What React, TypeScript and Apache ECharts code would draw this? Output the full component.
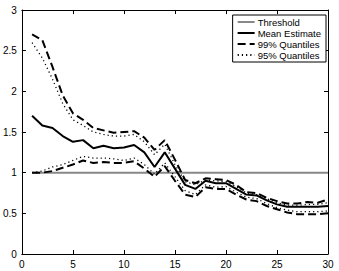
import React, { useEffect, useRef } from "react";
import * as echarts from "echarts";

const steps = Array.from({ length: 30 }, (_, i) => i + 1);
const threshold = steps.map(() => 1);
const meanEstimate = [1.7, 1.58, 1.55, 1.45, 1.38, 1.4, 1.3, 1.33, 1.3, 1.31, 1.34, 1.25, 1.07, 1.25, 1.05, 0.85, 0.8, 0.9, 0.87, 0.87, 0.8, 0.73, 0.72, 0.66, 0.61, 0.58, 0.58, 0.58, 0.58, 0.59];
const q99Upper = [2.7, 2.63, 2.3, 1.95, 1.73, 1.65, 1.55, 1.52, 1.49, 1.5, 1.51, 1.43, 1.28, 1.4, 1.16, 0.91, 0.87, 0.93, 0.92, 0.91, 0.85, 0.76, 0.75, 0.69, 0.65, 0.62, 0.62, 0.64, 0.63, 0.67];
const q95Upper = [2.6, 2.41, 2.15, 1.85, 1.65, 1.58, 1.5, 1.47, 1.45, 1.45, 1.47, 1.38, 1.22, 1.35, 1.1, 0.89, 0.85, 0.91, 0.9, 0.89, 0.83, 0.75, 0.73, 0.68, 0.63, 0.6, 0.6, 0.61, 0.61, 0.63];
const q95Lower = [1.0, 1.02, 1.07, 1.1, 1.15, 1.2, 1.18, 1.18, 1.17, 1.15, 1.18, 1.1, 0.98, 1.12, 0.95, 0.78, 0.73, 0.85, 0.82, 0.83, 0.76, 0.7, 0.68, 0.62, 0.57, 0.54, 0.52, 0.52, 0.52, 0.53];
const q99Lower = [1.0, 1.0, 1.02, 1.06, 1.1, 1.15, 1.12, 1.13, 1.12, 1.12, 1.14, 1.05, 0.95, 1.08, 0.9, 0.73, 0.7, 0.82, 0.8, 0.8, 0.73, 0.67, 0.65, 0.59, 0.55, 0.51, 0.49, 0.49, 0.49, 0.5];

const FONT = "Liberation Sans";

export default function App() {
  const ref = useRef<HTMLDivElement>(null);
  useEffect(() => {
    if (!ref.current) return;
    const chart = echarts.init(ref.current, null, { renderer: "svg" });
    const zip = (arr: number[]) => steps.map((s, i) => [s, arr[i]]);
    const axisCommon = {
      type: "value" as const,
      axisLine: { show: true, onZero: false, lineStyle: { color: "#000", width: 1 } },
      axisTick: { show: true, inside: true, length: 4, lineStyle: { color: "#000" } },
      splitLine: { show: false },
    };
    const dashed = [8, 4];
    const dotted = [1.2, 3];
    chart.setOption({
      animation: false,
      grid: { left: 19, right: 11, top: 10, bottom: 17, containLabel: false },
      legend: {
        orient: "vertical",
        right: 13,
        top: 15,
        backgroundColor: "#fff",
        borderColor: "#000",
        borderWidth: 1,
        padding: [2, 5, 2, 4],
        itemGap: 1,
        itemWidth: 17,
        itemHeight: 10,
        itemStyle: { opacity: 0 },
        textStyle: { fontFamily: FONT, fontSize: 9.5, color: "#000", padding: [0, 0, 0, -2] },
        data: ["Threshold", "Mean Estimate", "99% Quantiles", "95% Quantiles"],
      },
      xAxis: [
        {
          ...axisCommon,
          min: 0,
          max: 30,
          interval: 5,
          position: "bottom",
          axisLabel: { fontFamily: FONT, fontSize: 10, color: "#000", margin: 5 },
        },
        {
          ...axisCommon,
          min: 0,
          max: 30,
          interval: 5,
          position: "top",
          axisLabel: { show: false },
        },
      ],
      yAxis: [
        {
          ...axisCommon,
          min: 0,
          max: 3,
          interval: 0.5,
          position: "left",
          axisLabel: { fontFamily: FONT, fontSize: 10, color: "#000", margin: 5 },
        },
        {
          ...axisCommon,
          min: 0,
          max: 3,
          interval: 0.5,
          position: "right",
          axisLabel: { show: false },
        },
      ],
      series: [
        {
          name: "Threshold",
          type: "line",
          data: zip(threshold),
          symbol: "none",
          lineStyle: { color: "#888", width: 2 },
          itemStyle: { color: "#888" },
        },
        {
          name: "Mean Estimate",
          type: "line",
          data: zip(meanEstimate),
          symbol: "none",
          lineStyle: { color: "#000", width: 2 },
          itemStyle: { color: "#000" },
        },
        {
          name: "99% Quantiles",
          type: "line",
          data: zip(q99Upper),
          symbol: "none",
          lineStyle: { color: "#000", width: 2, type: dashed },
          itemStyle: { color: "#000" },
        },
        {
          name: "99% Quantiles",
          type: "line",
          data: zip(q99Lower),
          symbol: "none",
          lineStyle: { color: "#000", width: 2, type: dashed },
          itemStyle: { color: "#000" },
        },
        {
          name: "95% Quantiles",
          type: "line",
          data: zip(q95Upper),
          symbol: "none",
          lineStyle: { color: "#000", width: 1.3, type: dotted },
          itemStyle: { color: "#000" },
        },
        {
          name: "95% Quantiles",
          type: "line",
          data: zip(q95Lower),
          symbol: "none",
          lineStyle: { color: "#000", width: 1.3, type: dotted },
          itemStyle: { color: "#000" },
        },
      ],
    });
    return () => chart.dispose();
  }, []);
  return <div ref={ref} style={{ width: 339, height: 271, position: "absolute", left: 0, top: 0, background: "#fff" }} />;
}
